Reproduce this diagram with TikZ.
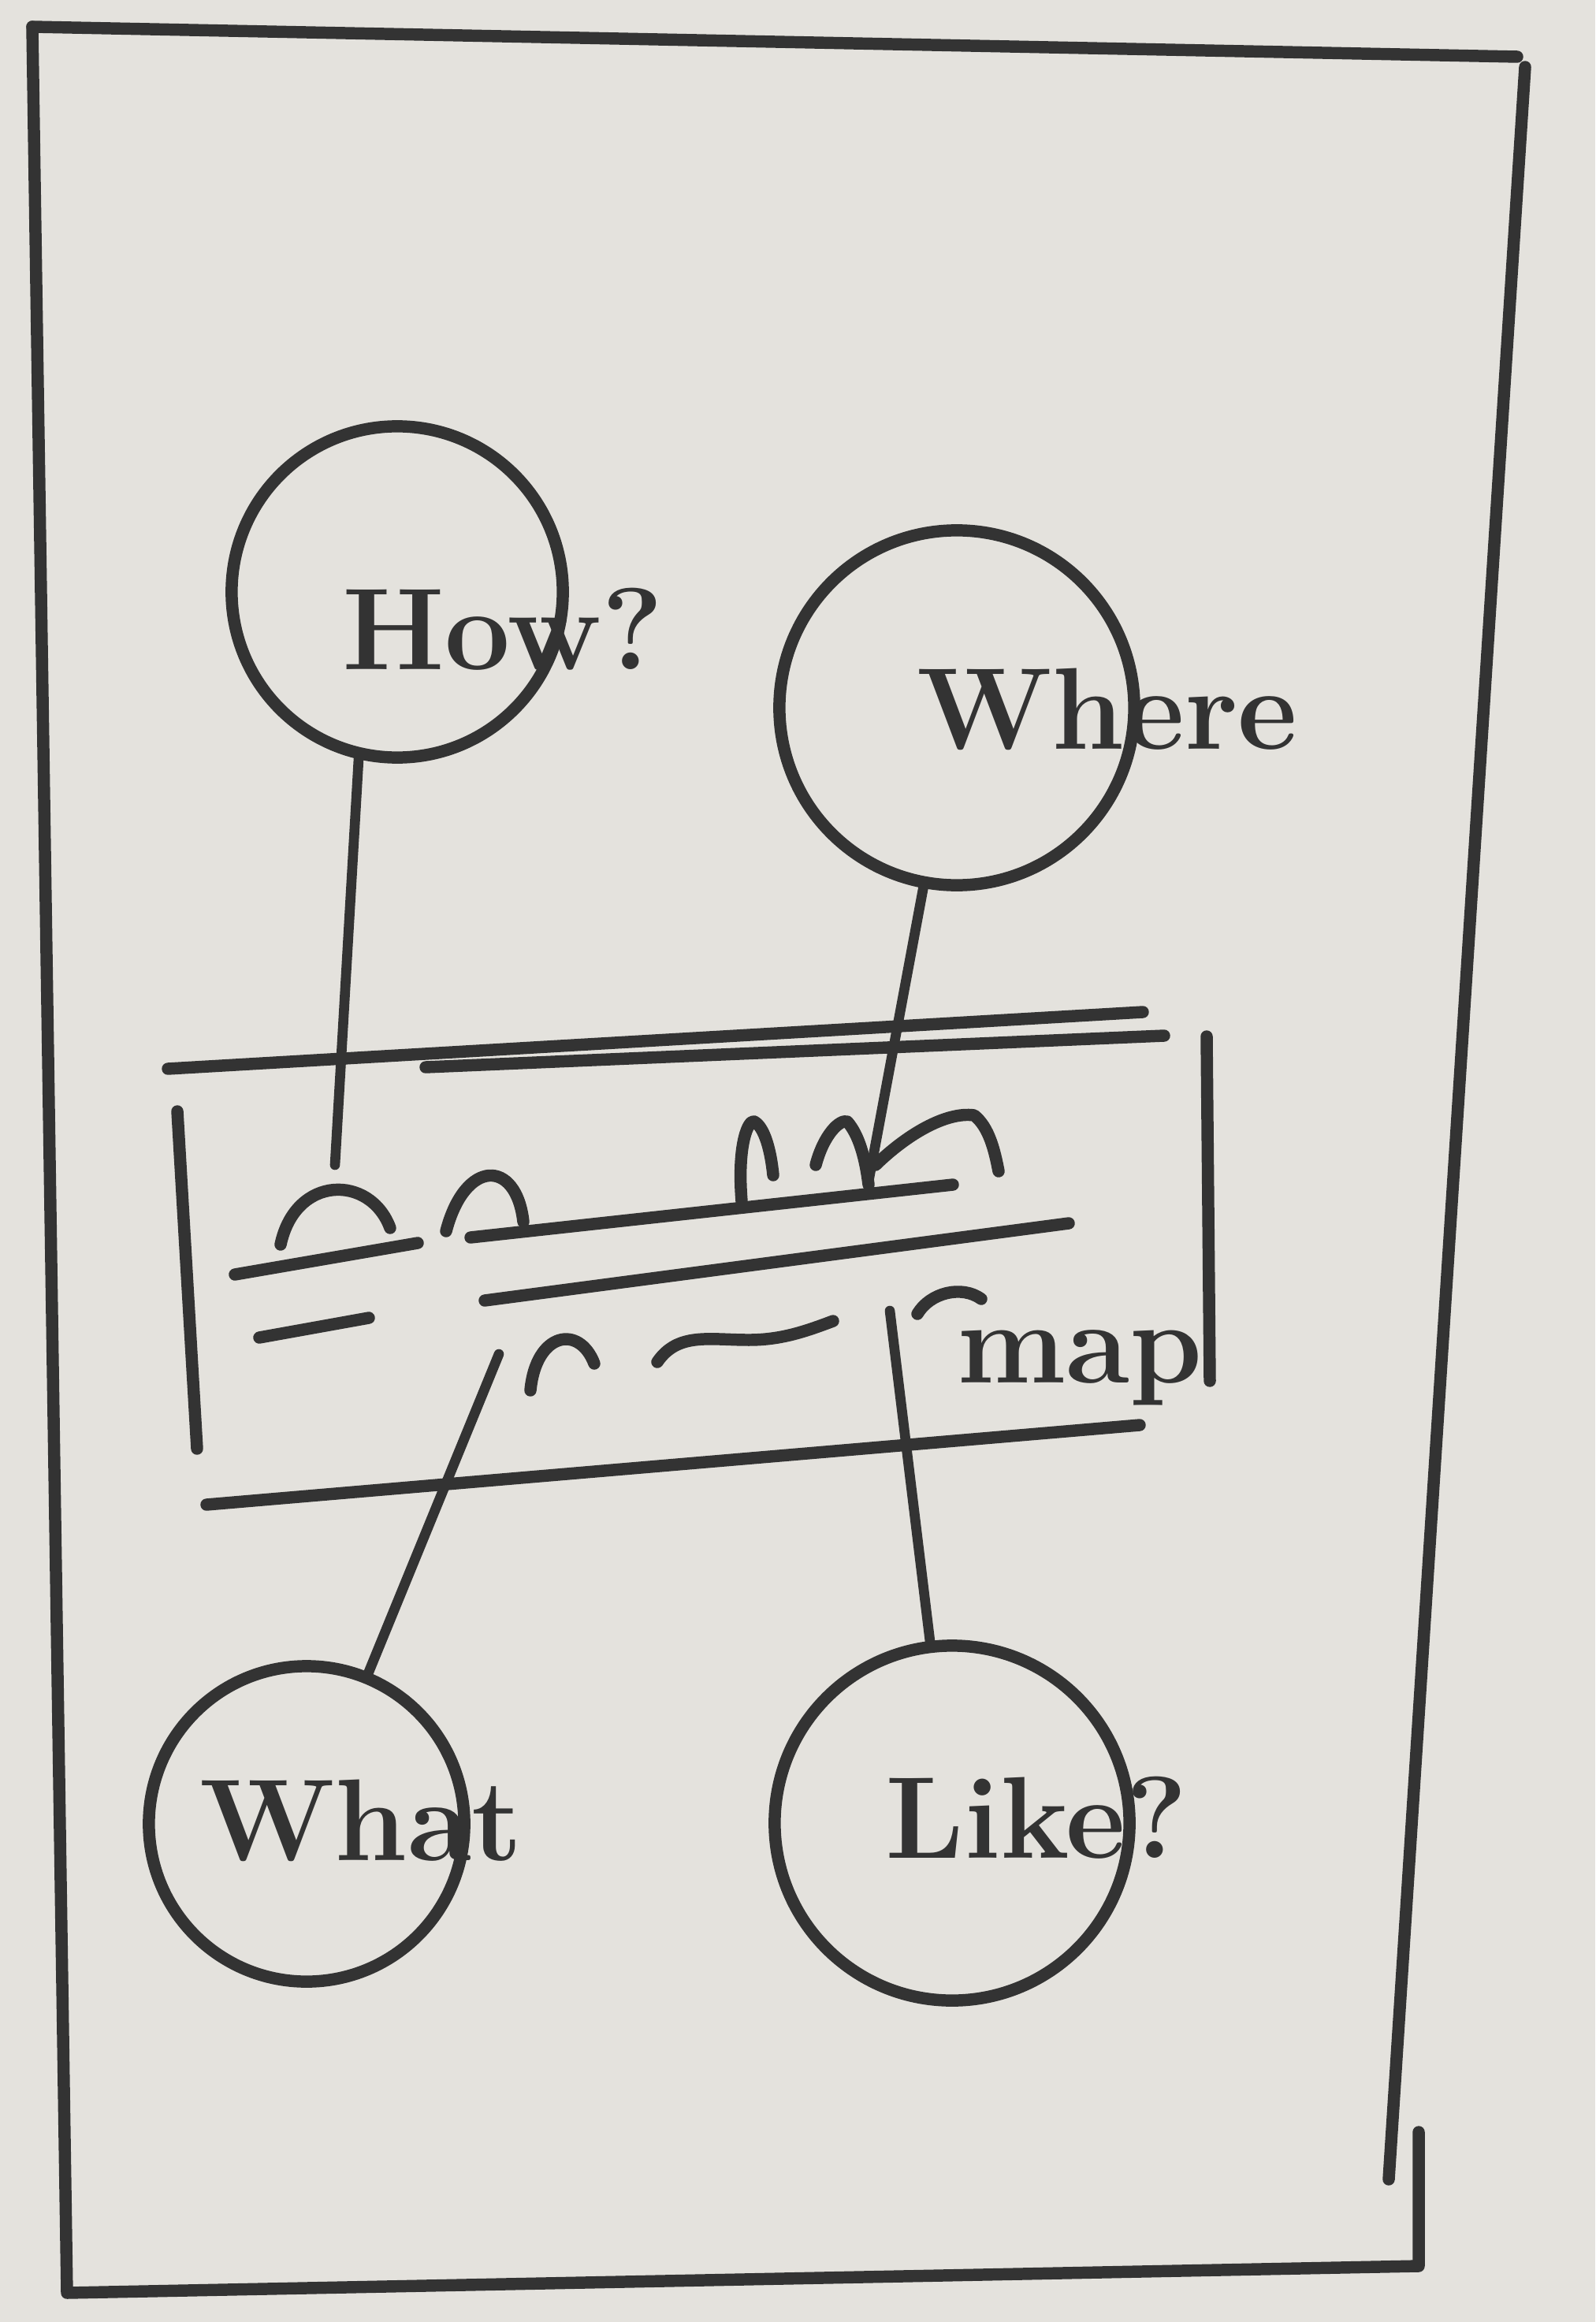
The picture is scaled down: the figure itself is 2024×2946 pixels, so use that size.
\documentclass[tikz,border=0pt]{standalone}
\usepackage{fontspec}
\definecolor{inkgray}{HTML}{333333}
\definecolor{paper}{HTML}{E4E2DD}

\begin{document}
\begin{tikzpicture}[x=0.01cm,y=-0.01cm,
  ink/.style={draw=inkgray,line width=4.4pt,line cap=round,line join=round},
  bubble/.style={ink,circle,inner sep=0pt},
  word/.style={text=inkgray,font=\fontsize{42}{46}\selectfont\bfseries,inner sep=0pt},
  wire/.style={ink,line width=3.6pt}]
  \fill[paper] (0,0) rectangle (2024,2946);
  \useasboundingbox (0,0) rectangle (2024,2946);

  % sheet frame
  \draw[ink] (41,34) -- (1925,72);
  \draw[ink] (1935,85) -- (1762,2765);
  \draw[ink] (1800,2705) -- (1800,2875) -- (85,2909) -- (41,34);

  % question bubbles
  \node[bubble,minimum size=4.2cm] (how) at (504,751) {};
  \node[word] (howtxt) at (638,798) {How?};
  \node[bubble,minimum size=4.5cm] (where) at (1214,898) {};
  \node[word] (wheretxt) at (1405,900) {Where};
  \node[bubble,minimum size=4.0cm] (what) at (389,2314) {};
  \node[word] (whattxt) at (458,2310) {What};
  \node[bubble,minimum size=4.5cm] (like) at (1208,2313) {};
  \node[word] (liketxt) at (1315,2306) {Like?};

  % the map
  \draw[ink] (213,1356) -- (1450,1284);
  \draw[ink] (540,1354) -- (1477,1314);
  \draw[ink] (225,1410) -- (250,1838);
  \draw[ink] (1531,1315) -- (1535,1752);
  \draw[ink] (262,1909) -- (1446,1808);
  \draw[ink] (298,1617) -- (530,1577);
  \draw[ink] (597,1570) -- (1209,1503);
  \draw[ink] (615,1650) -- (1356,1552);
  \draw[ink] (329,1697) -- (468,1672);
  \draw[ink] (356,1579) .. controls (375,1490) and (470,1490) .. (495,1558);
  \draw[ink] (566,1562) .. controls (590,1470) and (655,1470) .. (664,1550);
  \draw[ink] (941,1524) .. controls (935,1450) and (950,1420) .. (957,1423)
    .. controls (970,1430) and (978,1460) .. (981,1491);
  \draw[ink] (1035,1478) .. controls (1045,1440) and (1065,1420) .. (1075,1423)
    .. controls (1090,1440) and (1098,1470) .. (1102,1503);
  \draw[ink] (1111,1478) .. controls (1150,1440) and (1200,1410) .. (1236,1415)
    .. controls (1255,1430) and (1262,1460) .. (1267,1486);
  \draw[ink] (673,1764) .. controls (680,1690) and (735,1680) .. (754,1730);
  \draw[ink] (834,1728) .. controls (860,1690) and (900,1700) .. (950,1700)
    .. controls (990,1700) and (1020,1690) .. (1057,1676);
  \draw[ink] (1164,1667) .. controls (1180,1640) and (1220,1630) .. (1245,1648);
  \node[word] (maptxt) at (1370,1735) {map};

  % links from bubbles into the map
  \coordinate (howend) at (425,1478);
  \coordinate (whereend) at (1102,1499);
  \coordinate (whatend) at (633,1718);
  \coordinate (likeend) at (1129,1663);
  \draw[wire] (how.257) -- (howend);
  \draw[wire] (where) -- (whereend);
  \draw[wire] (what) -- (whatend);
  \draw[wire] (like) -- (likeend);
\end{tikzpicture}
\end{document}
